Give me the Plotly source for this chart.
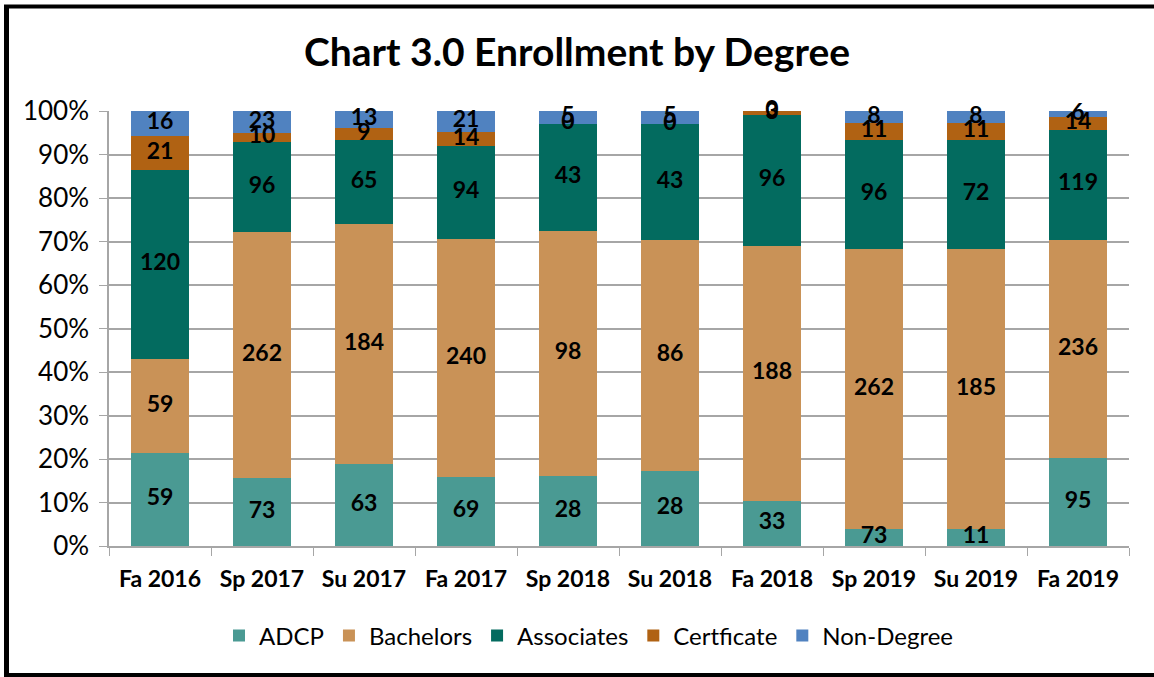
import plotly.graph_objects as go

terms = ["Fa 2016", "Sp 2017", "Su 2017", "Fa 2017", "Sp 2018",
         "Su 2018", "Fa 2018", "Sp 2019", "Su 2019", "Fa 2019"]

# Counts shown as data labels
adcp_lbl = [59, 73, 63, 69, 28, 28, 33, 73, 11, 95]
bach_lbl = [59, 262, 184, 240, 98, 86, 188, 262, 185, 236]
assoc_lbl = [120, 96, 65, 94, 43, 43, 96, 96, 72, 119]
cert_lbl = [21, 10, 9, 14, 0, 0, 3, 11, 11, 14]
nond_lbl = [16, 23, 13, 21, 5, 5, 0, 8, 8, 6]

# Counts behind the drawn bar heights (Sp 2019 bars are drawn like Su 2019)
adcp = [59, 73, 63, 69, 28, 28, 33, 11, 11, 95]
bach = [59, 262, 184, 240, 98, 86, 188, 185, 185, 236]
assoc = [120, 96, 65, 94, 43, 43, 96, 72, 72, 119]
cert = [21, 10, 9, 14, 0, 0, 3, 11, 11, 14]
nond = [16, 23, 13, 21, 5, 5, 0, 8, 8, 6]

series = [
    ("ADCP", adcp, adcp_lbl, "#4A9A93"),
    ("Bachelors", bach, bach_lbl, "#C99257"),
    ("Associates", assoc, assoc_lbl, "#036B5F"),
    ("Certficate", cert, cert_lbl, "#B06213"),
    ("Non-Degree", nond, nond_lbl, "#5082C0"),
]

totals = [sum(s[1][i] for s in series) for i in range(len(terms))]

FONT = "Lato"
W, H = 1154, 677
ML, MR, MT, MB = 109, 25, 111, 131
PW, PH = W - ML - MR, H - MT - MB

fig = go.Figure()
base = [0.0] * len(terms)
mids = []
for name, vals, lbls, color in series:
    pct = [v / t * 100 for v, t in zip(vals, totals)]
    mids.append([b + p / 2 for b, p in zip(base, pct)])
    base = [b + p for b, p in zip(base, pct)]
    fig.add_trace(go.Bar(
        x=terms, y=pct, name=name, marker=dict(color=color, line=dict(width=0)),
        customdata=lbls,
        hovertemplate="%{x}<br>" + name + ": %{customdata}<extra></extra>",
    ))

# data labels
for (name, vals, lbls, color), ym in zip(series, mids):
    fig.add_trace(go.Scatter(
        x=terms, y=ym, mode="text", text=[str(l) for l in lbls],
        textposition="middle center", showlegend=False, hoverinfo="skip",
        cliponaxis=False,
        textfont=dict(family=FONT, size=23, color="black", weight="bold"),
    ))

fig.update_layout(
    width=W, height=H,
    barmode="stack", bargap=0.43,
    paper_bgcolor="white", plot_bgcolor="white",
    margin=dict(l=ML, r=MR, t=MT, b=MB),
    title=dict(text="<b>Chart 3.0 Enrollment by Degree</b>", x=0.5, xanchor="center",
               y=1 - 52 / H, yanchor="middle",
               font=dict(family=FONT, size=39, color="black")),
    legend=dict(orientation="h", x=(589 - ML) / PW, xanchor="center",
                y=-(636 - (MT + PH)) / PH, yanchor="middle",
                font=dict(family=FONT, size=24, color="black"),
                traceorder="normal", itemwidth=30),
    font=dict(family=FONT, color="black"),
    showlegend=True,
)
fig.update_yaxes(
    range=[0, 100], tickvals=list(range(0, 101, 10)),
    ticktext=[f"{v}%" for v in range(0, 101, 10)],
    showgrid=True, gridcolor="#A6A6A6", gridwidth=1.5,
    showline=True, linecolor="#A6A6A6", linewidth=1.5,
    ticks="outside", ticklen=8, tickcolor="#A6A6A6", ticklabelstandoff=5,
    tickfont=dict(family=FONT, size=26, color="black"), zeroline=False,
)
fig.update_xaxes(
    showline=True, linecolor="#A6A6A6", linewidth=1.5,
    ticks="outside", ticklen=8, tickcolor="#A6A6A6", tickson="boundaries",
    ticklabelstandoff=12,
    tickfont=dict(family=FONT, size=23, color="black", weight="bold"),
)

# outer frame (left, top, bottom lines)
def px_x(p):
    return (p - ML) / PW

def px_y(p):
    return (MT + PH - p) / PH

fig.add_shape(type="line", xref="paper", yref="paper",
              x0=px_x(6.5), x1=px_x(6.5), y0=px_y(675), y1=px_y(6.5),
              line=dict(color="black", width=5))
fig.add_shape(type="line", xref="paper", yref="paper",
              x0=px_x(4), x1=px_x(W), y0=px_y(6.5), y1=px_y(6.5),
              line=dict(color="black", width=4))
fig.add_shape(type="line", xref="paper", yref="paper",
              x0=px_x(4), x1=px_x(W), y0=px_y(675), y1=px_y(675),
              line=dict(color="black", width=4))

fig.write_html("out.html", config={"displayModeBar": False},
               post_script="document.body.style.margin='0';document.body.style.overflow='hidden';")
